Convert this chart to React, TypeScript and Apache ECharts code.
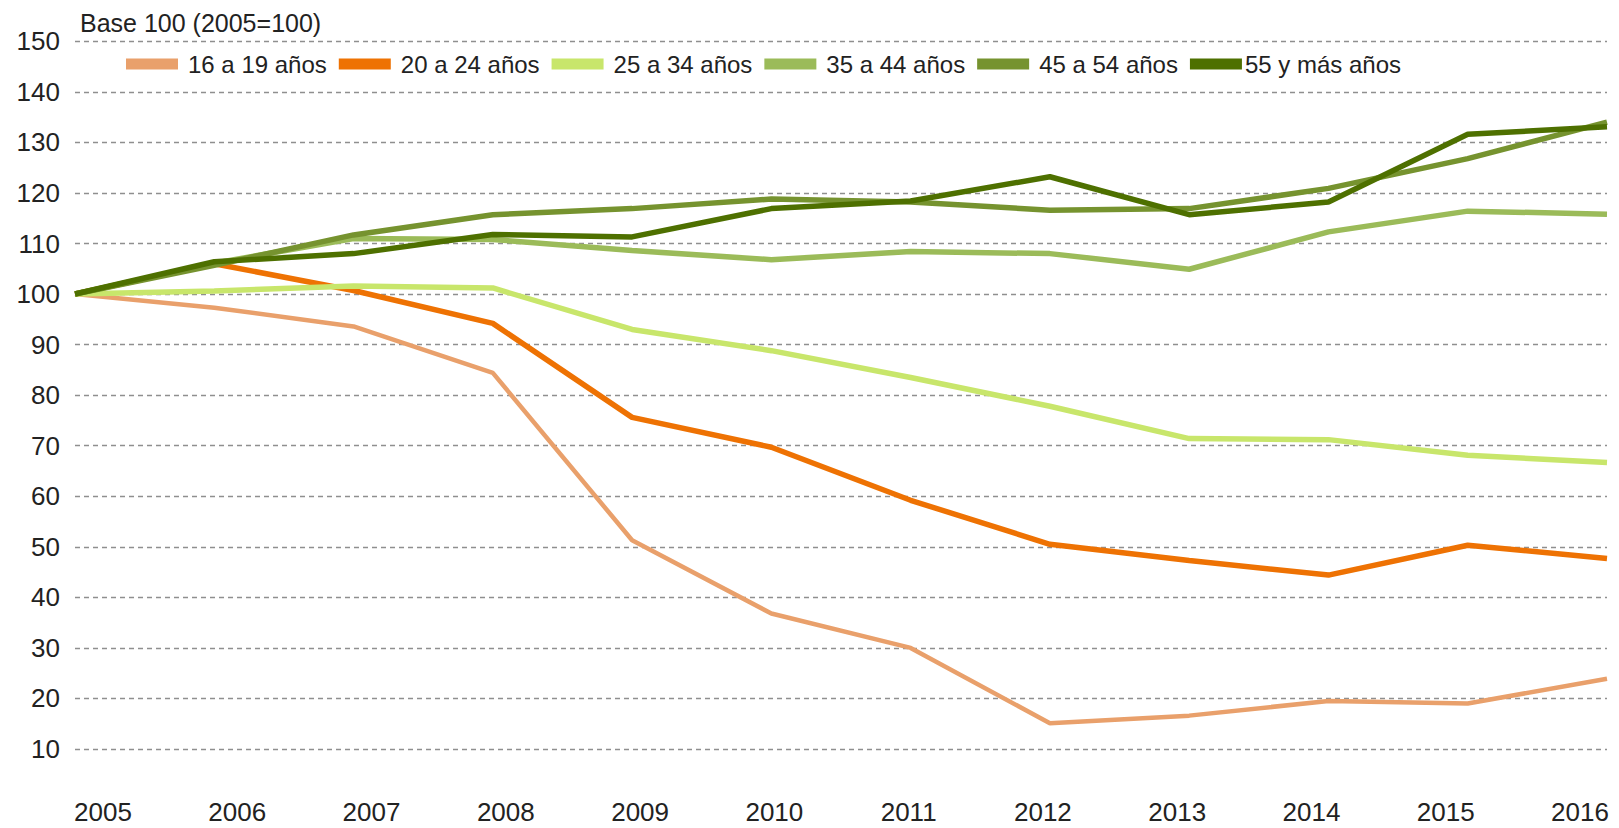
import React, { useEffect, useRef } from "react";
import * as echarts from "echarts";

const years = ["2005", "2006", "2007", "2008", "2009", "2010", "2011", "2012", "2013", "2014", "2015", "2016"];

const s16a19 = [100, 97.3, 93.6, 84.4, 51.3, 36.8, 30.0, 15.1, 16.6, 19.5, 19.0, 23.9];
const s20a24 = [100, 106.0, 100.7, 94.2, 75.6, 69.7, 59.2, 50.5, 47.3, 44.4, 50.3, 47.7];
const s25a34 = [100, 100.6, 101.6, 101.2, 93.0, 88.8, 83.5, 77.8, 71.4, 71.2, 68.1, 66.7];
const s35a44 = [100, 106.1, 111.0, 110.8, 108.6, 106.8, 108.4, 108.0, 104.9, 112.3, 116.4, 115.8];
const s45a54 = [100, 105.7, 111.7, 115.7, 116.9, 118.8, 118.2, 116.6, 116.9, 120.9, 126.8, 134.0];
const s55mas = [100, 106.4, 108.0, 111.8, 111.3, 116.9, 118.4, 123.2, 115.7, 118.2, 131.6, 133.1];

const seriesNames = ["16 a 19 años", "20 a 24 años", "25 a 34 años", "35 a 44 años", "45 a 54 años", "55 y más años"];
const seriesData = [s16a19, s20a24, s25a34, s35a44, s45a54, s55mas];
const seriesColors = ["#E9A06B", "#EE7203", "#C8E66B", "#9BBB59", "#76932F", "#4E7000"];
const seriesWidths = [4.5, 5.5, 5.5, 5.5, 5.5, 5.5];

const yMin = 10;
const yMax = 150;
const yStep = 10;

const FONT = "'Liberation Sans', Arial, sans-serif";

export default function App() {
  const ref = useRef<HTMLDivElement>(null);
  useEffect(() => {
    if (!ref.current) return;
    const chart = echarts.init(ref.current, undefined, { renderer: "svg" });
    chart.setOption({
      animation: false,
      backgroundColor: "#ffffff",
      textStyle: { fontFamily: FONT },
      title: {
        text: "Base 100 (2005=100)",
        left: 75,
        top: 5,
        textStyle: { fontFamily: FONT, fontSize: 25, fontWeight: "normal", color: "#222" },
      },
      legend: {
        left: 121,
        top: 47,
        itemWidth: 52,
        itemHeight: 11,
        itemGap: 12,
        icon: "rect",
        data: seriesNames.map((n, i) => ({
          name: n,
          textStyle: { padding: i === seriesNames.length - 1 ? [0, 0, 0, -2] : [0, 0, 0, 5] },
        })),
        textStyle: { fontFamily: FONT, fontSize: 24, color: "#222" },
      },
      grid: [
        { left: 75, right: 12, top: 41.3, bottom: 79, containLabel: false },
        { left: 103, right: 39, top: 41.3, bottom: 79, containLabel: false },
      ],
      xAxis: [
        {
          type: "category",
          gridIndex: 0,
          data: years,
          boundaryGap: false,
          axisLine: { show: false },
          axisTick: { show: false },
          axisLabel: { show: false },
          splitLine: { show: false },
        },
        {
          type: "category",
          gridIndex: 1,
          data: years,
          boundaryGap: false,
          axisLine: { show: false },
          axisTick: { show: false },
          axisLabel: { fontFamily: FONT, fontSize: 26, color: "#222", margin: 50 },
          splitLine: { show: false },
        },
      ],
      yAxis: [
        {
          type: "value",
          gridIndex: 0,
          min: yMin,
          max: yMax,
          interval: yStep,
          axisLine: { show: false },
          axisTick: { show: false },
          axisLabel: { fontFamily: FONT, fontSize: 26, color: "#222", margin: 15 },
          splitLine: { show: true, lineStyle: { color: "#8f8f8f", width: 1.3, type: [5, 4] } },
        },
        {
          type: "value",
          gridIndex: 1,
          min: yMin,
          max: yMax,
          interval: yStep,
          show: false,
        },
      ],
      series: seriesNames.map((name, i) => ({
        name,
        type: "line",
        xAxisIndex: 0,
        yAxisIndex: 0,
        data: seriesData[i],
        symbol: "none",
        lineStyle: { color: seriesColors[i], width: seriesWidths[i] },
        itemStyle: { color: seriesColors[i] },
        z: 2 + i,
      })),
    });
    return () => chart.dispose();
  }, []);
  return <div ref={ref} style={{ position: "fixed", left: 0, top: 0, width: 1619, height: 828 }} />;
}
